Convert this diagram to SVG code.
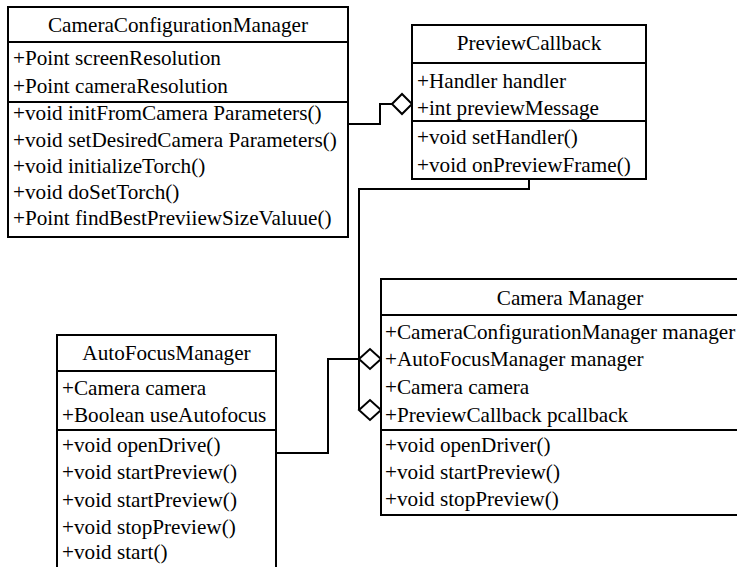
<svg xmlns="http://www.w3.org/2000/svg" width="737" height="567" viewBox="0 0 737 567">
<style>
.box{fill:#fff;stroke:#000;stroke-width:2}
.sep{stroke:#000;stroke-width:2}
.t{font-family:"Liberation Serif","Times New Roman",serif;font-size:21.2px;fill:#000}
.c{text-anchor:middle}
.conn{fill:none;stroke:#000;stroke-width:2}
.dia{fill:#fff;stroke:#000;stroke-width:2}
</style>
<rect width="737" height="567" fill="#fff"/>
<g id="connectors">
<polyline class="conn" points="348,124 380,124 380,104 392,104"/>
<polygon class="dia" points="392,104 402,94 412,104 402,114"/>
<polyline class="conn" points="529,179 529,189 359,189 359,410"/>
<polygon class="dia" points="359,410 370,400 381,410 370,420"/>
<polyline class="conn" points="276,453 328,453 328,359 359,359"/>
<polygon class="dia" points="359,359 370,349 381,359 370,369"/>
</g>
<g id="CameraConfigurationManager">
<rect class="box" x="8" y="7" width="340" height="230"/>
<line class="sep" x1="8" y1="42" x2="348" y2="42"/>
<line class="sep" x1="8" y1="102" x2="348" y2="102"/>
<text class="t c" x="178" y="32">CameraConfigurationManager</text>
<text class="t" x="13" y="65">+Point screenResolution</text>
<text class="t" x="13" y="93">+Point cameraResolution</text>
<text class="t" x="13" y="120">+void initFromCamera Parameters()</text>
<text class="t" x="13" y="147">+void setDesiredCamera Parameters()</text>
<text class="t" x="13" y="173">+void initializeTorch()</text>
<text class="t" x="13" y="199">+void doSetTorch()</text>
<text class="t" x="13" y="225">+Point findBestPreviiewSizeValuue()</text>
</g>
<g id="PreviewCallback">
<rect class="box" x="412" y="25" width="234" height="154"/>
<line class="sep" x1="412" y1="63" x2="646" y2="63"/>
<line class="sep" x1="412" y1="121" x2="646" y2="121"/>
<text class="t c" x="529" y="50">PreviewCallback</text>
<text class="t" x="417" y="88">+Handler handler</text>
<text class="t" x="417" y="115">+int previewMessage</text>
<text class="t" x="417" y="144">+void setHandler()</text>
<text class="t" x="417" y="172">+void onPreviewFrame()</text>
</g>
<g id="CameraManager">
<rect class="box" x="381" y="279" width="378" height="236"/>
<line class="sep" x1="381" y1="315" x2="759" y2="315"/>
<line class="sep" x1="381" y1="430" x2="759" y2="430"/>
<text class="t c" x="570" y="305">Camera Manager</text>
<text class="t" x="385" y="339">+CameraConfigurationManager manager</text>
<text class="t" x="385" y="366">+AutoFocusManager manager</text>
<text class="t" x="385" y="394">+Camera camera</text>
<text class="t" x="385" y="422">+PreviewCallback pcallback</text>
<text class="t" x="385" y="452">+void openDriver()</text>
<text class="t" x="385" y="479">+void startPreview()</text>
<text class="t" x="385" y="506">+void stopPreview()</text>
</g>
<g id="AutoFocusManager">
<rect class="box" x="57" y="335" width="219" height="250"/>
<line class="sep" x1="57" y1="371" x2="276" y2="371"/>
<line class="sep" x1="57" y1="430" x2="276" y2="430"/>
<text class="t c" x="166.5" y="360">AutoFocusManager</text>
<text class="t" x="62" y="395">+Camera camera</text>
<text class="t" x="62" y="422">+Boolean useAutofocus</text>
<text class="t" x="62" y="452">+void openDrive()</text>
<text class="t" x="62" y="479">+void startPreview()</text>
<text class="t" x="62" y="507">+void startPreview()</text>
<text class="t" x="62" y="534">+void stopPreview()</text>
<text class="t" x="62" y="559">+void start()</text>
</g>
</svg>
